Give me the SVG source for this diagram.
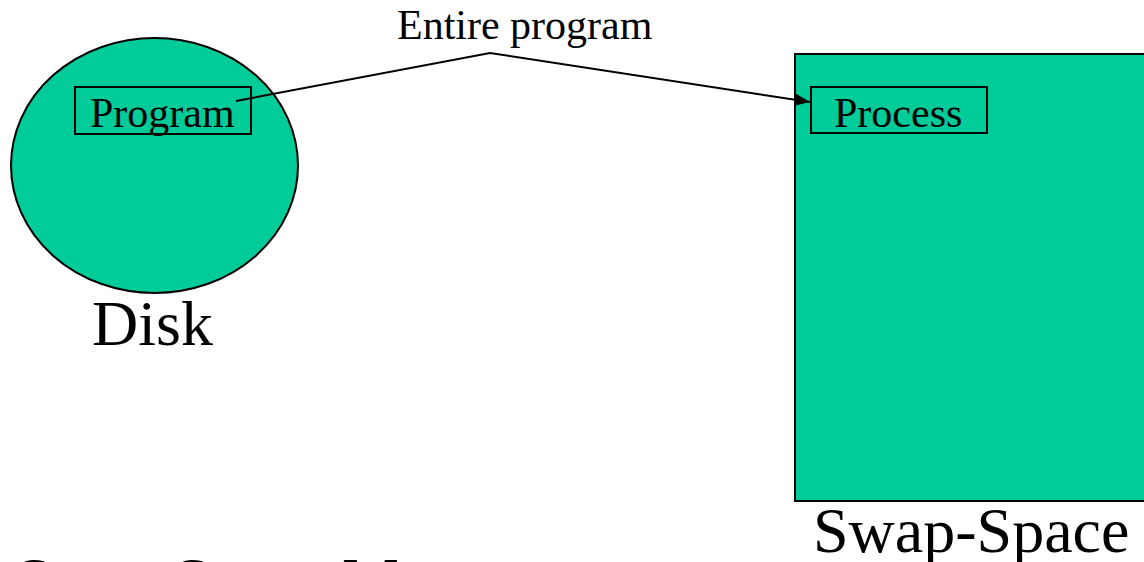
<svg xmlns="http://www.w3.org/2000/svg" width="1144" height="562" viewBox="0 0 1144 562">
  <style>
    .shape { fill: #00CC99; stroke: #000; stroke-width: 2; }
    .box { fill: none; stroke: #000; stroke-width: 2; }
    .t { font-family: "Liberation Serif", "Times New Roman", serif; fill: #000; }
    .conn { fill: none; stroke: #000; stroke-width: 2; }
  </style>
  <defs>
    <marker id="arrow" viewBox="0 0 10 8" refX="10" refY="4" markerWidth="7.5" markerHeight="6" orient="auto" markerUnits="strokeWidth">
      <path d="M0,0 L10,4 L0,8 z" fill="#000"/>
    </marker>
  </defs>
  <rect width="1144" height="562" fill="#fff"/>

  <!-- Disk holding the program -->
  <g id="disk">
    <ellipse class="shape" cx="154.5" cy="165.5" rx="143.5" ry="127.5"/>
    <text class="t" x="92" y="345" font-size="64">Disk</text>
  </g>
  <g id="program">
    <rect class="box" x="75" y="87" width="176" height="47"/>
    <text class="t" x="90" y="127" font-size="42">Program</text>
  </g>

  <!-- Swap space holding the process -->
  <g id="swap-space">
    <rect class="shape" x="795" y="54" width="360" height="447"/>
    <text class="t" x="813" y="552" font-size="64">Swap-Space</text>
  </g>
  <g id="process">
    <rect class="box" x="811" y="87" width="176" height="46"/>
    <text class="t" x="834" y="127" font-size="42">Process</text>
  </g>

  <!-- Transfer of the whole program -->
  <g id="connectors">
    <polyline class="conn" points="236,101 490,53 810,102" marker-end="url(#arrow)"/>
    <text class="t" x="397" y="39" font-size="42">Entire program</text>
  </g>

  <!-- Title running off the bottom edge -->
  <g id="title">
    <text class="t" x="15" y="602" font-size="64">Swap Space Management</text>
  </g>
</svg>
